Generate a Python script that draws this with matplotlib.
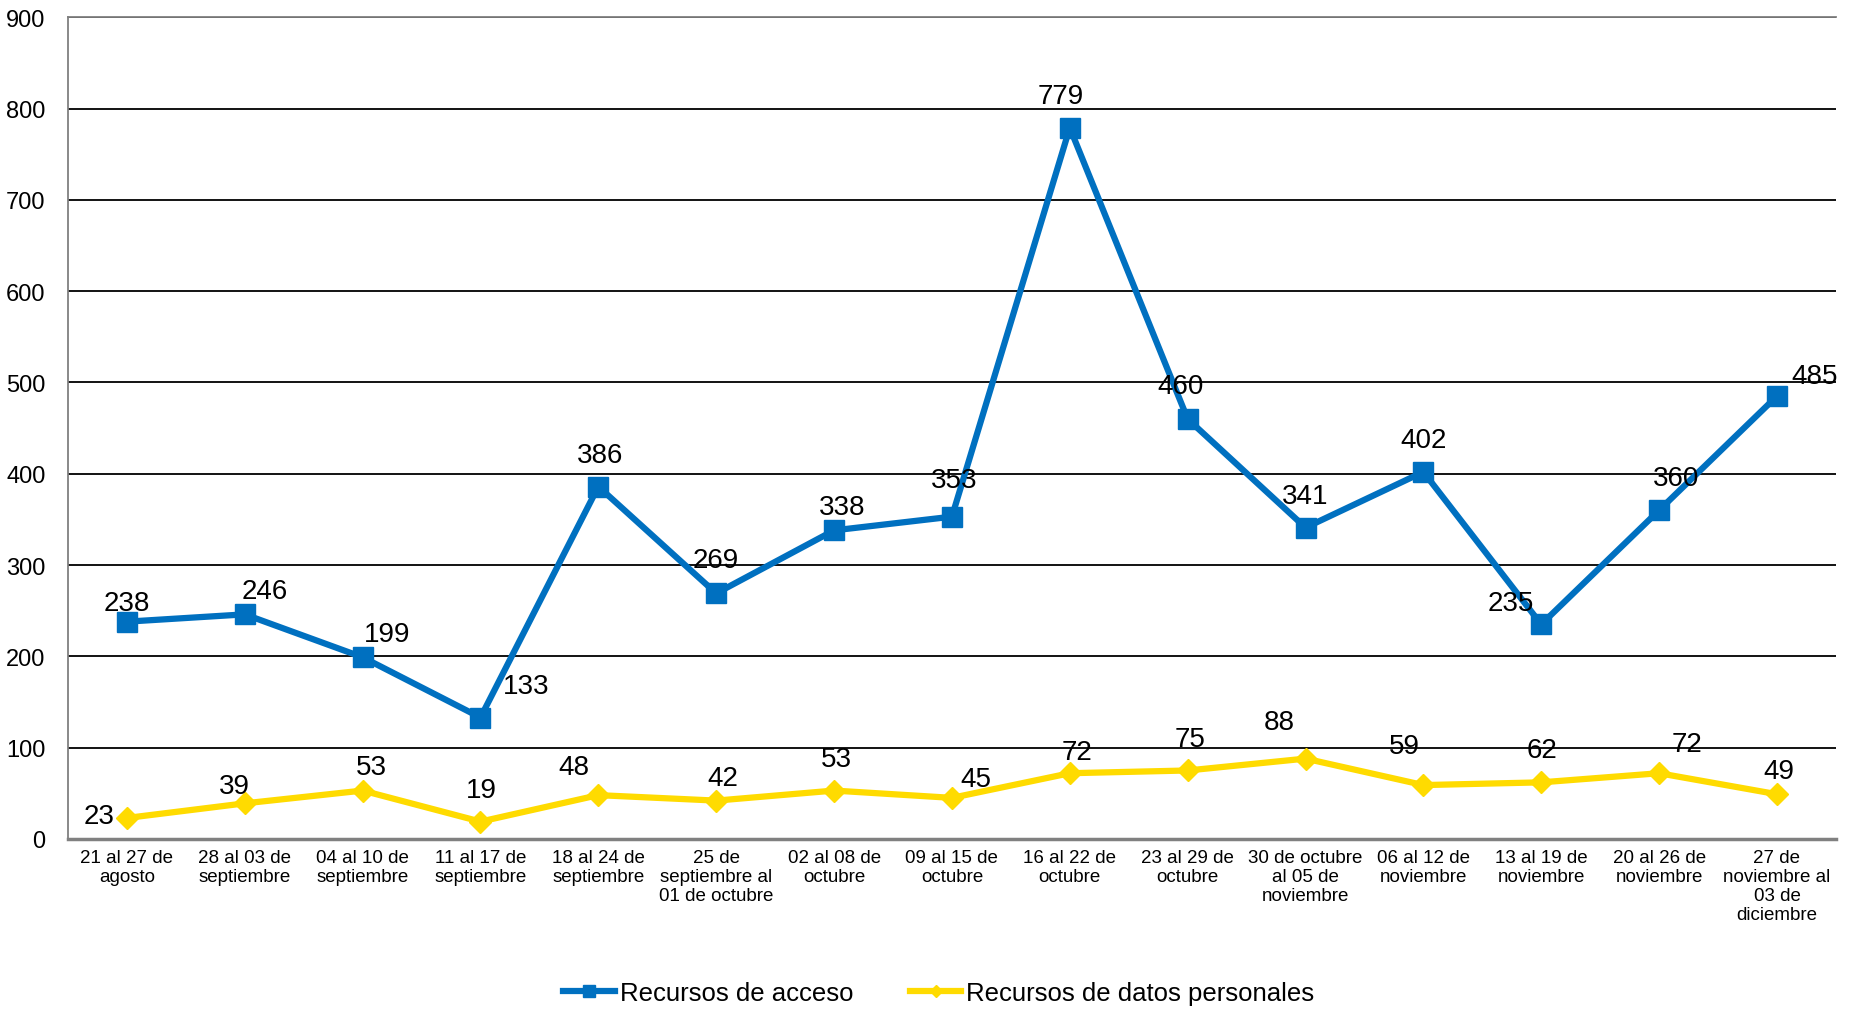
import numpy as np
import matplotlib.pyplot as plt

plt.rcParams['font.family'] = ['Liberation Sans', 'DejaVu Sans']

# semanas (etiquetas del eje x)
semanas = ['21 al 27 de\nagosto', '28 al 03 de\nseptiembre', '04 al 10 de\nseptiembre',
           '11 al 17 de\nseptiembre', '18 al 24 de\nseptiembre', '25 de\nseptiembre al\n01 de octubre',
           '02 al 08 de\noctubre', '09 al 15 de\noctubre', '16 al 22 de\noctubre',
           '23 al 29 de\noctubre', '30 de octubre\nal 05 de\nnoviembre', '06 al 12 de\nnoviembre',
           '13 al 19 de\nnoviembre', '20 al 26 de\nnoviembre', '27 de\nnoviembre al\n03 de\ndiciembre']
acceso = [238, 246, 199, 133, 386, 269, 338, 353, 779, 460, 341, 402, 235, 360, 485]
datos = [23, 39, 53, 19, 48, 42, 53, 45, 72, 75, 88, 59, 62, 72, 49]

# desplazamiento de las etiquetas (puntos)
off_acceso = [(0, 13.6), (14.5, 17), (17.8, 17), (33, 23), (1, 23), (0, 23.8), (6, 17),
              (1.7, 26.4), (-6.8, 23), (-5, 23.8), (0, 23), (0, 23), (-22, 15.3),
              (11.9, 23), (27, 14.5)]
off_datos = [(-20.4, 1.7), (-7.6, 12.8), (6, 17), (0.8, 23), (-17.8, 20.4), (5, 16.1),
             (1.7, 23), (17, 13.6), (5, 15.3), (1.7, 23), (-18.7, 26.4), (-13.6, 28),
             (0.8, 23), (20.4, 21.2), (1.7, 17)]

azul = '#0070C0'
amarillo = '#FFDB00'

fig = plt.figure(figsize=(18.52, 10.12), dpi=100)
ax = fig.add_axes([0.0367, 0.170, 0.9546, 0.812])

x = np.arange(len(semanas))
ax.plot(x, acceso, color=azul, lw=4.5, marker='s', ms=15, label='Recursos de acceso', zorder=4)
ax.plot(x, datos, color=amarillo, lw=4.5, marker='D', ms=11, label='Recursos de datos personales', zorder=3)

for i in range(len(x)):
    ax.annotate(str(acceso[i]), (x[i], acceso[i]), xytext=off_acceso[i], textcoords='offset points',
                ha='center', va='center', fontsize=20, zorder=5)
    ax.annotate(str(datos[i]), (x[i], datos[i]), xytext=off_datos[i], textcoords='offset points',
                ha='center', va='center', fontsize=20, zorder=5)

ax.set_xlim(-0.5, len(semanas) - 0.5)
ax.set_ylim(0, 900)
ax.set_yticks(np.arange(0, 901, 100))
ax.yaxis.grid(True, color='black', lw=1.3)
ax.set_axisbelow(True)
ax.set_xticks(x)
ax.set_xticklabels(semanas, fontsize=13.5, family=['Liberation Sans Narrow', 'Liberation Sans'],
                   linespacing=1.15)
ax.tick_params(axis='x', length=0, pad=7)
ax.tick_params(axis='y', length=0, pad=16, labelsize=17)
for s in ['left', 'top']:
    ax.spines[s].set_color('#808080')
    ax.spines[s].set_linewidth(1.3)
ax.spines['bottom'].set_color('#808080')
ax.spines['bottom'].set_linewidth(2.5)
ax.spines['right'].set_visible(False)

fig.legend(loc='lower center', bbox_to_anchor=(0.507, -0.017), ncol=2, frameon=False,
           fontsize=18.5, handlelength=2.0, columnspacing=2.2, handletextpad=0.2,
           markerscale=0.55)

fig.savefig('out.png', dpi=100)
